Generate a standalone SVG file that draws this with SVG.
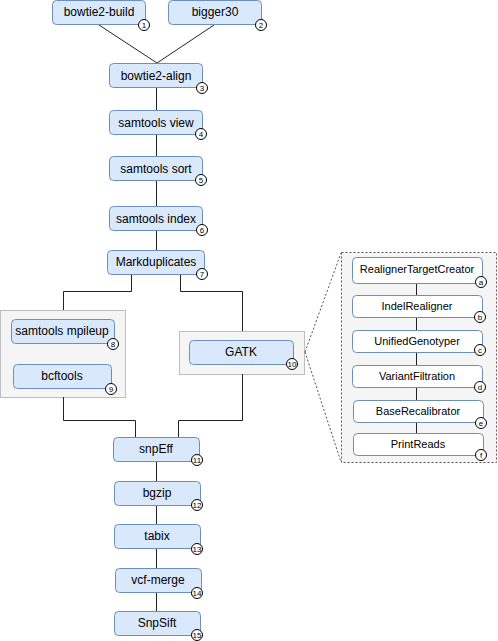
<svg xmlns="http://www.w3.org/2000/svg" width="498" height="641" viewBox="0 0 498 641">
<style>
.n{fill:#dae8fc;stroke:#6c8ebf;stroke-width:1}
.w{fill:#ffffff;stroke:#6c8ebf;stroke-width:1}
.g{fill:#f5f5f5;stroke:#bdbdbd;stroke-width:1}
.t{font-family:"Liberation Sans",Arial,sans-serif;font-size:12px;fill:#000;text-anchor:middle}
.ti{font-family:"Liberation Sans",Arial,sans-serif;font-size:11px;fill:#000;text-anchor:middle}
.c{fill:#ffffff;stroke:#000;stroke-width:1}
.cn{font-family:"Liberation Sans",Arial,sans-serif;font-size:8px;fill:#000;text-anchor:middle}
.e{fill:none;stroke:#222;stroke-width:1}
.d{fill:none;stroke:#555;stroke-width:1;stroke-dasharray:2 2}
</style>
<g id="groups">
<rect id="left-group" class="g" x="0.5" y="310.5" width="125" height="87"/>
<rect id="gatk-group" class="g" x="179.5" y="331.5" width="125" height="43"/>
<rect id="gatk-detail" x="341.5" y="252.5" width="155" height="210" fill="#f5f5f5" stroke="#555" stroke-dasharray="2 2"/>
</g>
<g id="connectors">
<path class="e" d="M99 25 L157 63"/>
<path class="e" d="M214 25 L157 63"/>
<path class="e" d="M156.5 88 V110"/>
<path class="e" d="M156.5 134 V156"/>
<path class="e" d="M156.5 180 V206"/>
<path class="e" d="M156.5 230 V250"/>
<path class="e" d="M131.5 274 V291.5 H63.5 V310"/>
<path class="e" d="M180.5 274 V291.5 H242.5 V331"/>
<path class="e" d="M63.5 397 V420.5 H135.5 V437"/>
<path class="e" d="M242.5 374 V420.5 H178.5 V437"/>
<path class="e" d="M156.5 461 V481"/>
<path class="e" d="M156.5 505 V524"/>
<path class="e" d="M156.5 549 V568"/>
<path class="e" d="M156.5 593 V611"/>
<path class="e" d="M416.5 283 V295"/>
<path class="e" d="M416.5 317 V330"/>
<path class="e" d="M416.5 352 V365"/>
<path class="e" d="M416.5 387 V400"/>
<path class="e" d="M416.5 422 V433"/>
<path class="d" d="M305 352 L341 253"/>
<path class="d" d="M305 352 L341 462"/>
</g>
<g id="n1"><rect class="n" x="52.5" y="0.5" width="93" height="24" rx="4"/><text class="t" x="99" y="16">bowtie2-build</text><circle class="c" cx="144" cy="25" r="5.5"/><text class="cn" x="144" cy="25" y="28">1</text></g>
<g id="n2"><rect class="n" x="168.5" y="0.5" width="93" height="24" rx="4"/><text class="t" x="215" y="16">bigger30</text><circle class="c" cx="261" cy="25" r="5.5"/><text class="cn" x="261" y="28">2</text></g>
<g id="n3"><rect class="n" x="109.5" y="63.5" width="93" height="24" rx="4"/><text class="t" x="156" y="79.5">bowtie2-align</text><circle class="c" cx="202" cy="88" r="5.5"/><text class="cn" x="202" y="91">3</text></g>
<g id="n4"><rect class="n" x="109.5" y="110.5" width="93" height="24" rx="4"/><text class="t" x="156" y="126.5">samtools view</text><circle class="c" cx="201" cy="134" r="5.5"/><text class="cn" x="201" y="137">4</text></g>
<g id="n5"><rect class="n" x="109.5" y="156.5" width="93" height="24" rx="4"/><text class="t" x="156" y="172.5">samtools sort</text><circle class="c" cx="201" cy="180" r="5.5"/><text class="cn" x="201" y="183">5</text></g>
<g id="n6"><rect class="n" x="109.5" y="206.5" width="93" height="24" rx="4"/><text class="t" x="156" y="222.5">samtools index</text><circle class="c" cx="202" cy="230" r="5.5"/><text class="cn" x="202" y="233">6</text></g>
<g id="n7"><rect class="n" x="107.5" y="250.5" width="97" height="24" rx="4"/><text class="t" x="156" y="266">Markduplicates</text><circle class="c" cx="202" cy="274" r="5.5"/><text class="cn" x="202" y="277">7</text></g>
<g id="n8"><rect class="n" x="11.5" y="319.5" width="103" height="24" rx="4"/><text class="t" x="62" y="335">samtools mpileup</text><circle class="c" cx="113" cy="344" r="5.5"/><text class="cn" x="113" y="347">8</text></g>
<g id="n9"><rect class="n" x="13.5" y="364.5" width="98" height="24" rx="4"/><text class="t" x="62" y="380">bcftools</text><circle class="c" cx="111" cy="389" r="5.5"/><text class="cn" x="111" y="392">9</text></g>
<g id="n10"><rect class="n" x="189.5" y="340.5" width="104" height="24" rx="4"/><text class="t" x="241" y="356">GATK</text><circle class="c" cx="292" cy="364" r="5.5"/><text class="cn" x="292" y="367">10</text></g>
<g id="na"><rect class="w" x="352.5" y="257.5" width="130" height="26" rx="4"/><text class="ti" x="417" y="273">RealignerTargetCreator</text><circle class="c" cx="481" cy="282" r="5.5"/><text class="cn" x="481" y="285">a</text></g>
<g id="nb"><rect class="w" x="352.5" y="295.5" width="130" height="22" rx="4"/><text class="ti" x="417" y="309.5">IndelRealigner</text><circle class="c" cx="480" cy="317" r="5.5"/><text class="cn" x="480" y="320">b</text></g>
<g id="nc"><rect class="w" x="352.5" y="330.5" width="130" height="22" rx="4"/><text class="ti" x="417" y="344.5">UnifiedGenotyper</text><circle class="c" cx="480" cy="350" r="5.5"/><text class="cn" x="480" y="353">c</text></g>
<g id="nd"><rect class="w" x="352.5" y="365.5" width="130" height="22" rx="4"/><text class="ti" x="417" y="379.5">VariantFiltration</text><circle class="c" cx="480" cy="387" r="5.5"/><text class="cn" x="480" y="390">d</text></g>
<g id="ne"><rect class="w" x="353.5" y="400.5" width="130" height="22" rx="4"/><text class="ti" x="418" y="414.5">BaseRecalibrator</text><circle class="c" cx="481" cy="423" r="5.5"/><text class="cn" x="481" y="426">e</text></g>
<g id="nf"><rect class="w" x="353.5" y="433.5" width="130" height="22" rx="4"/><text class="ti" x="418" y="447.5">PrintReads</text><circle class="c" cx="481" cy="455" r="5.5"/><text class="cn" x="481" y="458">f</text></g>
<g id="n11"><rect class="n" x="113.5" y="437.5" width="86" height="24" rx="4"/><text class="t" x="156" y="453">snpEff</text><circle class="c" cx="197" cy="460" r="5.5"/><text class="cn" x="197" y="463">11</text></g>
<g id="n12"><rect class="n" x="114.5" y="481.5" width="86" height="24" rx="4"/><text class="t" x="157" y="497">bgzip</text><circle class="c" cx="197" cy="505" r="5.5"/><text class="cn" x="197" y="508">12</text></g>
<g id="n13"><rect class="n" x="114.5" y="524.5" width="86" height="24" rx="4"/><text class="t" x="157" y="540">tabix</text><circle class="c" cx="197" cy="549" r="5.5"/><text class="cn" x="197" y="552">13</text></g>
<g id="n14"><rect class="n" x="115.5" y="568.5" width="86" height="24" rx="4"/><text class="t" x="158" y="584">vcf-merge</text><circle class="c" cx="197" cy="593" r="5.5"/><text class="cn" x="197" y="596">14</text></g>
<g id="n15"><rect class="n" x="114.5" y="611.5" width="86" height="24" rx="4"/><text class="t" x="157" y="627">SnpSift</text><circle class="c" cx="197" cy="635" r="5.5"/><text class="cn" x="197" y="638">15</text></g>
</svg>
